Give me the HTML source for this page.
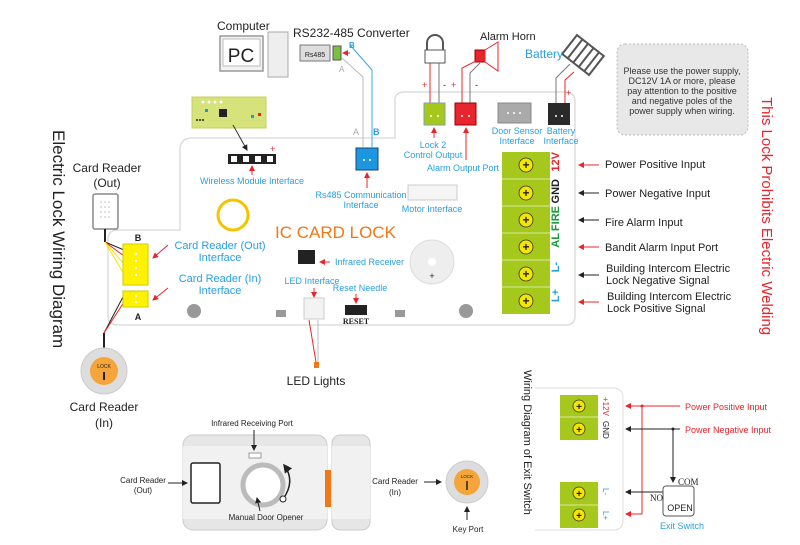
<!DOCTYPE html>
<html><head><meta charset="utf-8"><style>
html,body{margin:0;padding:0;background:#fff}
svg{display:block;font-family:"Liberation Sans",sans-serif}
.b{fill:#2a9fe0}.k{fill:#222}.r{fill:#e8242c}
</style></head><body>
<svg width="800" height="545" viewBox="0 0 800 545" xmlns="http://www.w3.org/2000/svg">
<defs>
<marker id="ar" markerWidth="6" markerHeight="6" refX="5" refY="3" orient="auto"><path d="M0,0L6,3L0,6z" fill="#e8242c"/></marker>
<marker id="ak" markerWidth="6" markerHeight="6" refX="5" refY="3" orient="auto"><path d="M0,0L6,3L0,6z" fill="#222"/></marker>
</defs>
<path d="M395,100 Q395,92 405,92 L565,92 Q575,92 575,102 L575,316 Q575,325 565,325 L118,325 Q108,325 108,316 L108,240 Q108,230 118,230 L180,230 L180,150 Q180,138 192,138 L395,138 Z" fill="#fff" stroke="#ddd" stroke-width="1.5"/>
<text transform="translate(53,130) rotate(90)" font-size="17" class="k">Electric Lock Wiring Diagram</text>
<text transform="translate(762,97) rotate(90)" font-size="15" class="r">This Lock Prohibits Electric Welding</text>
<text x="217" y="30" font-size="12" class="k">Computer</text>
<rect x="220" y="36" width="43" height="35" fill="#f3f3f3" stroke="#999" stroke-width="1.5"/>
<rect x="223" y="39" width="37" height="27" fill="#fff" stroke="#bbb"/>
<text x="241" y="62" font-size="19" text-anchor="middle" class="k">PC</text>
<rect x="268" y="32" width="20" height="45" fill="#eee" stroke="#aaa"/>
<text x="293" y="37" font-size="12" class="k">RS232-485 Converter</text>
<rect x="300" y="45" width="30" height="16" fill="#ddd" stroke="#777"/>
<text x="315" y="57" font-size="7" text-anchor="middle" class="k">Rs485</text>
<rect x="333" y="46" width="8" height="14" fill="#7bc043" stroke="#555"/>
<line x1="350" y1="53" x2="343" y2="53" stroke="#e8242c" marker-end="url(#ar)"/>
<polyline points="342,58 363,77 363,147" fill="none" stroke="#bbb"/>
<polyline points="350,45 372,70 372,147" fill="none" stroke="#3aa8e8"/>
<text x="339" y="72" font-size="8" fill="#aaa">A</text>
<text x="349" y="48" font-size="8" class="b" font-weight="bold">B</text>
<text x="353" y="135" font-size="9" fill="#aaa">A</text>
<text x="373" y="135" font-size="9" class="b" font-weight="bold">B</text>
<rect x="356" y="148" width="22" height="22" fill="#1e96e0" stroke="#147"/>
<g fill="#fff"><circle cx="364" cy="160" r="1"/><circle cx="370" cy="160" r="1"/></g>
<line x1="367" y1="188" x2="367" y2="173" stroke="#e8242c" marker-end="url(#ar)"/>
<text x="361" y="198" font-size="9" text-anchor="middle" class="b">Rs485 Communication</text>
<text x="361" y="208" font-size="9" text-anchor="middle" class="b">Interface</text>
<rect x="408" y="185" width="49" height="15" fill="#f5f5f5" stroke="#ccc"/>
<text x="432" y="212" font-size="9" text-anchor="middle" class="b">Motor Interface</text>
<rect x="192" y="97" width="74" height="31" fill="#d6e27a" stroke="#c5d060"/>
<g fill="#fff"><circle cx="203" cy="102" r="1.5"/><circle cx="209" cy="102" r="1.5"/><circle cx="215" cy="102" r="1.5"/><circle cx="221" cy="102" r="1.5"/></g>
<g fill="#222"><circle cx="197" cy="120" r="1"/><circle cx="200" cy="120" r="1"/><circle cx="203" cy="120" r="1"/></g>
<rect x="205" y="109" width="3" height="3" fill="#1e96e0"/><rect x="251" y="115" width="3" height="3" fill="#1e96e0"/><rect x="258" y="113" width="3" height="3" fill="#e8242c"/>
<rect x="219" y="109" width="8" height="8" fill="#222"/>
<line x1="233" y1="125" x2="247" y2="150" stroke="#333" marker-end="url(#ak)"/>
<rect x="228" y="154" width="48" height="10" fill="#222"/>
<g fill="#fff"><rect x="231" y="156" width="6" height="6"/><rect x="243" y="156" width="6" height="6"/><rect x="255" y="156" width="6" height="6"/><rect x="267" y="156" width="6" height="6"/></g>
<text x="270" y="152" font-size="9" class="r">+</text>
<line x1="252" y1="175" x2="252" y2="166" stroke="#e8242c" marker-end="url(#ar)"/>
<text x="252" y="184" font-size="9" text-anchor="middle" class="b">Wireless Module Interface</text>
<path d="M427,50 L427,43 A8,8 0 0 1 443,43 L443,50" fill="none" stroke="#555" stroke-width="2"/>
<rect x="425" y="50" width="20" height="13" fill="#fff" stroke="#555"/>
<line x1="430" y1="63" x2="430" y2="103" stroke="#e8242c"/><line x1="439" y1="63" x2="439" y2="103" stroke="#777"/>
<text x="480" y="40" font-size="11" class="k">Alarm Horn</text>
<rect x="475" y="50" width="10" height="12" fill="#e8242c" stroke="#900"/>
<path d="M485,50 L498,42 L498,71 L485,62z" fill="#fff" stroke="#e8242c"/>
<polyline points="478,60 462,68 462,103" fill="none" stroke="#e8242c"/>
<polyline points="480,63 470,73 470,103" fill="none" stroke="#777"/>
<text x="422" y="88" font-size="9" class="r">+</text><text x="451" y="88" font-size="9" class="r">+</text>
<text x="443" y="88" font-size="9" class="k">-</text><text x="475" y="88" font-size="9" class="k">-</text>
<rect x="424" y="103" width="21" height="22" fill="#a6c81c" stroke="#7a9"/>
<rect x="455" y="103" width="21" height="22" fill="#e8242c" stroke="#900"/>
<rect x="498" y="103" width="33" height="20" fill="#aaa" stroke="#888"/>
<rect x="548" y="103" width="22" height="22" fill="#2a2a2a"/>
<g fill="#fff"><circle cx="431" cy="116" r="1"/><circle cx="438" cy="116" r="1"/><circle cx="462" cy="116" r="1"/><circle cx="469" cy="116" r="1"/><circle cx="556" cy="116" r="1"/><circle cx="562" cy="116" r="1"/><circle cx="508" cy="113" r="1"/><circle cx="514" cy="113" r="1"/><circle cx="520" cy="113" r="1"/></g>
<g transform="translate(583,55) rotate(38)"><rect x="-17" y="-12" width="34" height="24" fill="#fff" stroke="#555" stroke-width="2"/><g stroke="#555" stroke-width="2"><line x1="-10" y1="-12" x2="-10" y2="12"/><line x1="-3" y1="-12" x2="-3" y2="12"/><line x1="4" y1="-12" x2="4" y2="12"/><line x1="11" y1="-12" x2="11" y2="12"/></g></g>
<text x="525" y="58" font-size="12" class="b">Battery</text>
<polyline points="570,64 556,78 556,103" fill="none" stroke="#777"/>
<polyline points="574,72 565,80 565,103" fill="none" stroke="#e8242c"/>
<text x="566" y="96" font-size="9" class="r">+</text>
<line x1="434" y1="138" x2="434" y2="128" stroke="#e8242c" marker-end="url(#ar)"/>
<line x1="466" y1="160" x2="466" y2="128" stroke="#e8242c" marker-end="url(#ar)"/>
<text x="433" y="148" font-size="9" text-anchor="middle" class="b">Lock 2</text>
<text x="433" y="158" font-size="9" text-anchor="middle" class="b">Control Output</text>
<text x="463" y="171" font-size="9" text-anchor="middle" class="b">Alarm Output Port</text>
<text x="517" y="134" font-size="9" text-anchor="middle" class="b">Door Sensor</text>
<text x="517" y="144" font-size="9" text-anchor="middle" class="b">Interface</text>
<text x="561" y="134" font-size="9" text-anchor="middle" class="b">Battery</text>
<text x="561" y="144" font-size="9" text-anchor="middle" class="b">Interface</text>
<rect x="617" y="44" width="131" height="91" rx="8" fill="#e8e8e8" stroke="#bbb" stroke-dasharray="2,2"/>
<g font-size="9" text-anchor="middle" fill="#333"><text x="682" y="74">Please use the power supply,</text><text x="682" y="84">DC12V 1A or more, please</text><text x="682" y="94">pay attention to the positive</text><text x="682" y="104">and negative poles of the</text><text x="682" y="114">power supply when wiring.</text></g>
<rect x="502" y="152" width="48" height="162" fill="#a6c81c"/>
<g stroke="#d8e8a0"><line x1="502" y1="179" x2="550" y2="179"/><line x1="502" y1="206" x2="550" y2="206"/><line x1="502" y1="233" x2="550" y2="233"/><line x1="502" y1="260" x2="550" y2="260"/><line x1="502" y1="287" x2="550" y2="287"/></g>
<g fill="#f5e600" stroke="#333" stroke-width="0.8">
<circle cx="526" cy="165" r="7"/><circle cx="526" cy="193" r="7"/><circle cx="526" cy="220" r="7"/><circle cx="526" cy="247" r="7"/><circle cx="526" cy="274" r="7"/><circle cx="526" cy="301" r="7"/></g>
<g font-size="12" font-weight="bold" text-anchor="middle" fill="#222"><text x="526" y="169">+</text><text x="526" y="197">+</text><text x="526" y="224">+</text><text x="526" y="251">+</text><text x="526" y="278">+</text><text x="526" y="305">+</text></g>
<g font-size="11" font-weight="bold">
<text transform="translate(559,152) rotate(-90)" text-anchor="end" class="r">12V</text>
<text transform="translate(559,179) rotate(-90)" text-anchor="end" class="k">GND</text>
<text transform="translate(559,206) rotate(-90)" text-anchor="end" fill="#1a9a3a">FIRE</text>
<text transform="translate(559,233) rotate(-90)" text-anchor="end" fill="#1a9a3a">AL</text>
<text transform="translate(559,262) rotate(-90)" text-anchor="end" class="b">L-</text>
<text transform="translate(559,289) rotate(-90)" text-anchor="end" class="b">L+</text>
</g>
<line x1="599" y1="165" x2="579" y2="165" stroke="#e8242c" marker-end="url(#ar)"/>
<line x1="599" y1="193" x2="579" y2="193" stroke="#222" marker-end="url(#ak)"/>
<line x1="599" y1="220" x2="579" y2="220" stroke="#222" marker-end="url(#ak)"/>
<line x1="599" y1="247" x2="579" y2="247" stroke="#e8242c" marker-end="url(#ar)"/>
<line x1="599" y1="275" x2="579" y2="275" stroke="#222" marker-end="url(#ak)"/>
<line x1="599" y1="302" x2="579" y2="302" stroke="#e8242c" marker-end="url(#ar)"/>
<g font-size="11" fill="#222">
<text x="605" y="168">Power Positive Input</text>
<text x="605" y="197">Power Negative Input</text>
<text x="605" y="226">Fire Alarm Input</text>
<text x="605" y="251">Bandit Alarm Input Port</text>
<text x="606" y="272">Building Intercom Electric</text>
<text x="606" y="284">Lock Negative Signal</text>
<text x="607" y="300">Building Intercom Electric</text>
<text x="607" y="312">Lock Positive Signal</text>
</g>
<text x="107" y="172" font-size="12" text-anchor="middle" class="k">Card Reader</text>
<text x="107" y="187" font-size="12" text-anchor="middle" class="k">(Out)</text>
<rect x="93" y="194" width="25" height="35" rx="2" fill="#fff" stroke="#888" stroke-width="1.5"/>
<g fill="#bbb"><circle cx="101" cy="202" r="0.8"/><circle cx="105" cy="202" r="0.8"/><circle cx="109" cy="202" r="0.8"/><circle cx="101" cy="207" r="0.8"/><circle cx="105" cy="207" r="0.8"/><circle cx="109" cy="207" r="0.8"/><circle cx="101" cy="212" r="0.8"/><circle cx="105" cy="212" r="0.8"/><circle cx="109" cy="212" r="0.8"/><circle cx="101" cy="217" r="0.8"/><circle cx="105" cy="217" r="0.8"/><circle cx="109" cy="217" r="0.8"/></g>
<line x1="105" y1="229" x2="105" y2="242" stroke="#222" stroke-width="2"/>
<line x1="105" y1="242" x2="124" y2="250" stroke="#222"/><line x1="105" y1="242" x2="124" y2="256" stroke="#e8242c"/><line x1="105" y1="242" x2="124" y2="264" stroke="#f5e600"/><line x1="105" y1="242" x2="124" y2="274" stroke="#f5e600"/>
<line x1="124" y1="295" x2="104" y2="333" stroke="#222"/><line x1="124" y1="302" x2="104" y2="333" stroke="#e8242c"/>
<line x1="104" y1="333" x2="104" y2="350" stroke="#222" stroke-width="2"/>
<rect x="123" y="244" width="25" height="41" fill="#fff200" stroke="#cc0"/>
<rect x="123" y="291" width="25" height="16" fill="#fff200" stroke="#cc0"/>
<g fill="#fff"><circle cx="136" cy="254" r="1.2"/><circle cx="136" cy="261" r="1.2"/><circle cx="136" cy="268" r="1.2"/><circle cx="136" cy="275" r="1.2"/><circle cx="136" cy="296" r="1.2"/><circle cx="136" cy="302" r="1.2"/></g>
<text x="138" y="241" font-size="9" font-weight="bold" text-anchor="middle" class="k">B</text>
<text x="138" y="320" font-size="9" font-weight="bold" text-anchor="middle" class="k">A</text>
<line x1="168" y1="245" x2="153" y2="258" stroke="#e8242c" marker-end="url(#ar)"/>
<line x1="168" y1="288" x2="153" y2="300" stroke="#e8242c" marker-end="url(#ar)"/>
<g font-size="11" class="b" text-anchor="middle"><text x="220" y="249">Card Reader (Out)</text><text x="220" y="261">Interface</text><text x="220" y="282">Card Reader (In)</text><text x="220" y="294">Interface</text></g>
<circle cx="233" cy="215" r="15" fill="none" stroke="#f5c400" stroke-width="3"/>
<text x="275" y="238" font-size="17" fill="#f07818">IC CARD  LOCK</text>
<rect x="298" y="250" width="17" height="14" fill="#222"/>
<line x1="330" y1="262" x2="320" y2="262" stroke="#e8242c" marker-end="url(#ar)"/>
<text x="335" y="265" font-size="9" class="b">Infrared Receiver</text>
<text x="312" y="284" font-size="9" text-anchor="middle" class="b">LED Interface</text>
<text x="360" y="291" font-size="9" text-anchor="middle" class="b">Reset Needle</text>
<line x1="314" y1="288" x2="314" y2="297" stroke="#e8242c" marker-end="url(#ar)"/>
<line x1="356" y1="294" x2="356" y2="303" stroke="#e8242c" marker-end="url(#ar)"/>
<rect x="304" y="298" width="20" height="21" fill="#f3f3f3" stroke="#ccc"/>
<rect x="345" y="305" width="22" height="10" fill="#222"/>
<text x="356" y="324" font-size="8" font-weight="bold" text-anchor="middle" font-family="Liberation Serif,serif" class="k">RESET</text>
<circle cx="432" cy="262" r="22" fill="#eee" stroke="#ddd"/><circle cx="432" cy="262" r="4" fill="#fff"/>
<text x="432" y="279" font-size="9" text-anchor="middle" class="k">+</text>
<circle cx="194" cy="311" r="7" fill="#999"/><circle cx="466" cy="311" r="7" fill="#999"/>
<rect x="276" y="310" width="10" height="7" fill="#999"/><rect x="395" y="310" width="10" height="7" fill="#999"/>
<line x1="309" y1="320" x2="316" y2="362" stroke="#e8242c"/><line x1="318" y1="320" x2="318" y2="362" stroke="#bbb"/>
<rect x="314" y="362" width="5" height="6" fill="#f07818"/>
<text x="316" y="385" font-size="12" text-anchor="middle" class="k">LED Lights</text>
<circle cx="104" cy="371" r="23" fill="#ddd" stroke="#ccc"/><circle cx="104" cy="371" r="14" fill="#f5a53a"/>
<text x="104" y="368" font-size="5" text-anchor="middle" class="k">LOCK</text>
<line x1="104" y1="372" x2="104" y2="380" stroke="#222" stroke-width="2"/>
<text x="104" y="411" font-size="12" text-anchor="middle" class="k">Card Reader</text>
<text x="104" y="427" font-size="12" text-anchor="middle" class="k">(In)</text>
<rect x="183" y="435" width="144" height="95" rx="10" fill="#e6e6e6" stroke="#ccc"/>
<rect x="183" y="446" width="144" height="73" fill="#f1f1f1"/>
<rect x="332" y="435" width="38" height="95" rx="8" fill="#e6e6e6" stroke="#ccc"/>
<rect x="332" y="446" width="38" height="73" fill="#f1f1f1"/>
<rect x="325" y="470" width="6" height="37" fill="#f07818"/>
<rect x="191" y="463" width="29" height="40" rx="2" fill="#fff" stroke="#222" stroke-width="1.5"/>
<circle cx="263" cy="485" r="20" fill="#fff" stroke="#bbb" stroke-width="5"/>
<rect x="249" y="453" width="12" height="5" fill="#fff" stroke="#999"/>
<path d="M283,499 Q296,481 284,465" fill="none" stroke="#222" stroke-width="1.5" marker-end="url(#ak)"/>
<circle cx="283" cy="499" r="3" fill="#fff" stroke="#222"/>
<text x="252" y="426" font-size="8" text-anchor="middle" class="k">Infrared Receiving Port</text>
<line x1="254" y1="430" x2="254" y2="450" stroke="#222" marker-end="url(#ak)"/>
<text x="266" y="520" font-size="8" text-anchor="middle" class="k">Manual Door Opener</text>
<line x1="260" y1="511" x2="257" y2="498" stroke="#222" marker-end="url(#ak)"/>
<text x="143" y="483" font-size="8" text-anchor="middle" class="k">Card Reader</text>
<text x="143" y="493" font-size="8" text-anchor="middle" class="k">(Out)</text>
<line x1="168" y1="483" x2="187" y2="483" stroke="#222" marker-end="url(#ak)"/>
<text x="395" y="484" font-size="8" text-anchor="middle" class="k">Card Reader</text>
<text x="395" y="495" font-size="8" text-anchor="middle" class="k">(In)</text>
<line x1="424" y1="482" x2="441" y2="482" stroke="#222" marker-end="url(#ak)"/>
<circle cx="467" cy="482" r="21" fill="#ddd" stroke="#ccc"/><circle cx="467" cy="482" r="13" fill="#f5a53a"/>
<text x="467" y="478" font-size="4.5" text-anchor="middle" class="k">LOCK</text>
<line x1="467" y1="481" x2="467" y2="490" stroke="#222" stroke-width="1.5"/>
<line x1="467" y1="520" x2="467" y2="507" stroke="#222" marker-end="url(#ak)"/>
<text x="468" y="532" font-size="8" text-anchor="middle" class="k">Key Port</text>
<text transform="translate(524,370) rotate(90)" font-size="11" class="k">Wiring Diagram of Exit Switch</text>
<path d="M535,388 L613,388 Q623,388 623,398 L623,520 Q623,530 613,530 L535,530" fill="none" stroke="#ddd"/>
<rect x="560" y="395" width="38" height="45" fill="#a6c81c"/>
<rect x="560" y="482" width="38" height="46" fill="#a6c81c"/>
<line x1="560" y1="417" x2="598" y2="417" stroke="#d8e8a0"/><line x1="560" y1="505" x2="598" y2="505" stroke="#d8e8a0"/>
<g fill="#f5e600" stroke="#333" stroke-width="0.8"><circle cx="579" cy="406" r="6"/><circle cx="579" cy="429" r="6"/><circle cx="579" cy="493" r="6"/><circle cx="579" cy="515" r="6"/></g>
<g font-size="10" font-weight="bold" text-anchor="middle" fill="#222"><text x="579" y="410">+</text><text x="579" y="433">+</text><text x="579" y="497">+</text><text x="579" y="519">+</text></g>
<g font-size="8"><text transform="translate(603,397) rotate(90)" class="r">+12V</text><text transform="translate(603,421) rotate(90)" class="k">GND</text>
<text transform="translate(603,488) rotate(90)" class="b">L-</text><text transform="translate(603,511) rotate(90)" class="b">L+</text></g>
<line x1="680" y1="406" x2="626" y2="406" stroke="#e8242c" marker-end="url(#ar)"/>
<polyline points="642,406 642,514 626,514" fill="none" stroke="#e8242c" marker-end="url(#ar)"/>
<line x1="680" y1="429" x2="626" y2="429" stroke="#222" marker-end="url(#ak)"/>
<polyline points="673,429 673,482" fill="none" stroke="#222" marker-end="url(#ak)"/>
<polyline points="663,492 626,492" fill="none" stroke="#222" marker-end="url(#ak)"/>
<circle cx="642" cy="406" r="1.5" fill="#e8242c"/><circle cx="673" cy="429" r="1.5" fill="#222"/>
<text x="685" y="410" font-size="9" class="r">Power Positive Input</text>
<text x="685" y="433" font-size="9" class="r">Power Negative Input</text>
<rect x="663" y="486" width="31" height="30" rx="3" fill="#fff" stroke="#555"/>
<text x="678" y="485" font-size="9" font-family="Liberation Serif,serif" class="k">COM</text>
<text x="650" y="501" font-size="9" font-family="Liberation Serif,serif" class="k">NO</text>
<text x="680" y="511" font-size="9" text-anchor="middle" class="k">OPEN</text>
<text x="682" y="529" font-size="9" text-anchor="middle" class="b">Exit Switch</text>
</svg>
</body></html>
